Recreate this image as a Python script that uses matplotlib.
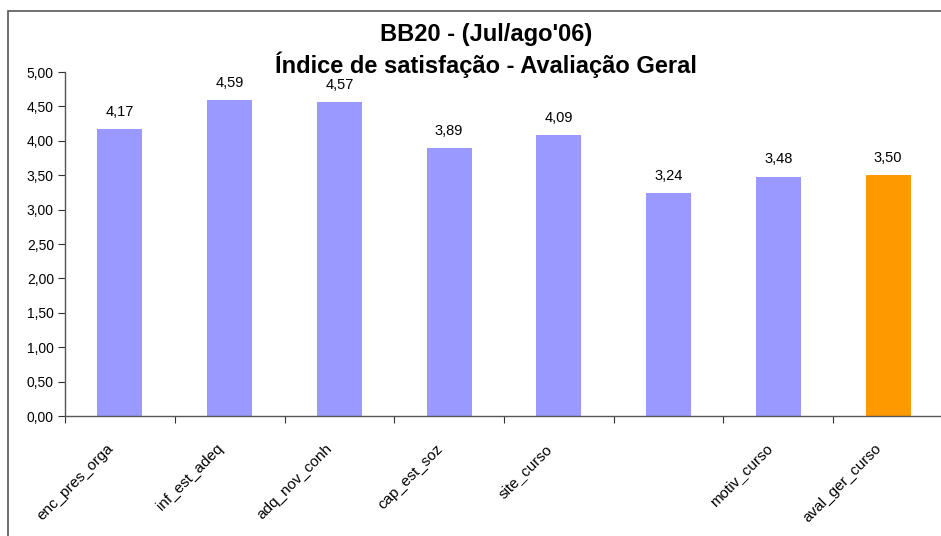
import matplotlib
matplotlib.use("Agg")
import matplotlib.pyplot as plt
from matplotlib.patches import Rectangle
import numpy as np

plt.rcParams['font.family'] = ['Liberation Sans', 'DejaVu Sans']

categories = ["enc_pres_orga", "inf_est_adeq", "adq_nov_conh", "cap_est_soz",
              "site_curso", "", "motiv_curso", "aval_ger_curso"]
values = [4.17, 4.59, 4.57, 3.89, 4.09, 3.24, 3.48, 3.50]
colors = ["#9999FF"] * 7 + ["#FF9900"]
yticks = [0, 0.5, 1, 1.5, 2, 2.5, 3, 3.5, 4, 4.5, 5]
title_lines = ["BB20 - (Jul/ago'06)", "Índice de satisfação - Avaliação Geral"]

W, H = 941, 536
fig = plt.figure(figsize=(W / 100, H / 100), dpi=100)

# outer chart border
fig.patches.append(Rectangle((8 / W, -0.1), 1.2, 1 - 11 / H + 0.1,
                             transform=fig.transFigure, fill=False,
                             edgecolor="#555555", linewidth=1.2))

ax = fig.add_axes([65 / W, 1 - 416 / H, (943 - 65) / W, (416 - 72) / H])
x = np.arange(len(categories))
ax.bar(x, values, width=0.41, color=colors, zorder=2)

for xi, v in zip(x, values):
    ax.annotate(f"{v:.2f}".replace(".", ","), (xi, v), xytext=(0, 12.3),
                textcoords="offset points", ha="center", va="center",
                fontsize=10.5, color="#000000")

ax.set_xlim(-0.5, len(categories) - 0.5)
ax.set_ylim(0, 5)
ax.set_yticks(yticks)
ax.set_yticklabels([f"{t:.2f}".replace(".", ",") for t in yticks], fontsize=10)

# category labels (slightly left of centre, as in the original)
ax.set_xticks(x - 0.08)
ax.set_xticklabels(categories, rotation=45, ha="right", va="center",
                   rotation_mode="anchor", fontsize=11)
ax.set_xticks(np.arange(len(categories)) - 0.5, minor=True)
ax.tick_params(axis="x", which="major", length=0, pad=22)
ax.tick_params(axis="x", which="minor", length=5, width=0.8, color="#333333")
ax.tick_params(axis="y", length=5, width=0.8, color="#333333", pad=3)

for s in ["top", "right"]:
    ax.spines[s].set_visible(False)
for s in ["left", "bottom"]:
    ax.spines[s].set_color("#555555")
    ax.spines[s].set_linewidth(1.0)

fig.text(486 / W, 1 - 35 / H, title_lines[0], ha="center", va="center",
         fontsize=17, fontweight="bold")
fig.text(486 / W, 1 - 65 / H, title_lines[1], ha="center", va="center",
         fontsize=17, fontweight="bold")

fig.savefig("out.png", dpi=100)
